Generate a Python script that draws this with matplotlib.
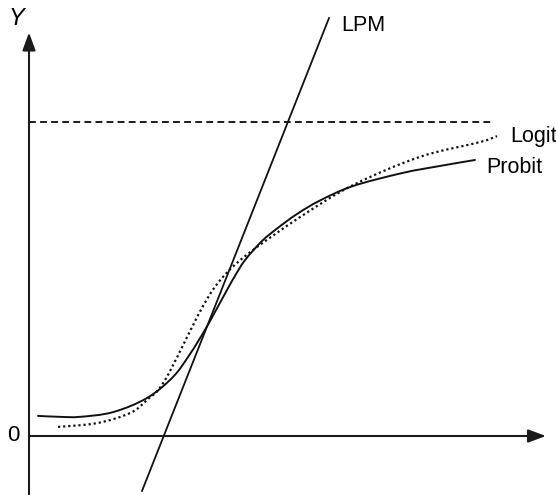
import matplotlib
matplotlib.use("Agg")
import matplotlib.pyplot as plt
from matplotlib.path import Path
from matplotlib.patches import PathPatch

# Probit curve (solid)
probit_x = [0.18, 0.62, 1.02, 1.68, 2.36, 2.88, 3.22, 3.52, 3.72, 3.96, 4.12, 4.32,
            4.66, 4.98, 5.36, 5.82, 6.48, 7.48, 8.22, 8.92]
probit_y = [0.064, 0.061, 0.061, 0.076, 0.121, 0.188, 0.261, 0.338, 0.395, 0.465, 0.510, 0.560,
            0.621, 0.663, 0.707, 0.750, 0.796, 0.838, 0.860, 0.879]

# Logit curve (dotted)
logit_x = [0.58, 1.36, 2.02, 2.36, 2.72, 3.46, 3.86, 4.38, 5.42, 6.48, 7.82, 9.02, 9.36]
logit_y = [0.029, 0.041, 0.073, 0.115, 0.178, 0.408, 0.503, 0.580, 0.697, 0.799, 0.889, 0.936, 0.955]

# Linear probability model (straight line)
lpm_x = [2.26, 6.00]
lpm_y = [-0.175, 1.331]

# Upper bound Y = 1
bound_x = [0.0, 9.26]
bound_y = [1.0, 1.0]

labels = ["LPM", "Logit", "Probit"]

FONT = ["Liberation Sans", "DejaVu Sans"]


def smooth_path(xs, ys):
    """Catmull-Rom curve through the given points, as cubic Bezier segments."""
    pts = list(zip(xs, ys))
    verts = [pts[0]]
    codes = [Path.MOVETO]
    n = len(pts)
    for i in range(n - 1):
        p0 = pts[i - 1] if i > 0 else pts[i]
        p1 = pts[i]
        p2 = pts[i + 1]
        p3 = pts[i + 2] if i + 2 < n else pts[i + 1]
        c1 = (p1[0] + (p2[0] - p0[0]) / 6.0, p1[1] + (p2[1] - p0[1]) / 6.0)
        c2 = (p2[0] - (p3[0] - p1[0]) / 6.0, p2[1] - (p3[1] - p1[1]) / 6.0)
        verts += [c1, c2, p2]
        codes += [Path.CURVE4, Path.CURVE4, Path.CURVE4]
    return Path(verts, codes)


fig = plt.figure(figsize=(5.56, 4.95), dpi=100)
ax = fig.add_axes([0, 0, 1, 1])
ax.set_xlim(-0.58, 10.54)
ax.set_ylim(-0.1879, 1.3885)
ax.axis("off")

# axes with arrows
arrow_kw = dict(arrowstyle="-|>,head_length=0.6,head_width=0.22", lw=1.5,
                color="#1a1a1a", shrinkA=0, shrinkB=0, mutation_scale=18)
ax.annotate("", xy=(0, 1.285), xytext=(0, -0.19), arrowprops=arrow_kw)
ax.annotate("", xy=(10.34, 0), xytext=(0, 0), arrowprops=arrow_kw)

ax.plot(bound_x, bound_y, color="#1a1a1a", lw=1.4, linestyle=(0, (3.5, 2.2)))
ax.plot(lpm_x, lpm_y, color="#111111", lw=1.3)
ax.add_patch(PathPatch(smooth_path(probit_x, probit_y), facecolor="none",
                       edgecolor="#111111", lw=1.4, capstyle="round"))
ax.add_patch(PathPatch(smooth_path(logit_x, logit_y), facecolor="none",
                       edgecolor="#111111", lw=1.6, linestyle=(0, (1, 1.3))))

fs = 15.5
ax.text(6.24, 1.291, labels[0], fontsize=fs, family=FONT, ha="left", va="baseline")
ax.text(9.62, 0.937, labels[1], fontsize=fs, family=FONT, ha="left", va="baseline")
ax.text(9.15, 0.837, labels[2], fontsize=fs, family=FONT, ha="left", va="baseline")
ax.text(-0.31, 0.0, "0", fontsize=16, family=FONT, ha="center", va="center")
ax.text(-0.26, 1.328, "Y", fontsize=17, family=FONT, style="italic", ha="center", va="center")

fig.savefig("out.png", dpi=100)
